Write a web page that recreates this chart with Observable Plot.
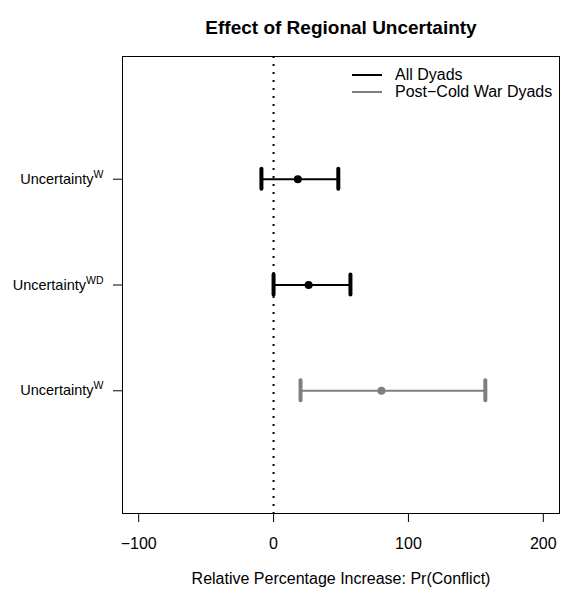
<!DOCTYPE html>
<html>
<head>
<meta charset="utf-8">
<script src="https://cdn.jsdelivr.net/npm/d3@7"></script>
<script src="https://cdn.jsdelivr.net/npm/@observablehq/plot@0.6"></script>
<style>
  html, body { margin: 0; padding: 0; background: #fff; }
  #wrap { position: relative; width: 561px; height: 596px; font-family: "Liberation Sans", Arial, sans-serif; }
  #legend { position: absolute; left: 352px; top: 66px; font-size: 16px; color: #000; }
  #legend .row { display: flex; align-items: center; height: 17px; }
  #legend .sw { width: 30px; height: 0; border-top: 2px solid; margin-right: 13px; }
</style>
</head>
<body>
<div id="wrap"></div>
<script>
// ---- data ----
const title = "Effect of Regional Uncertainty";
const xLabel = "Relative Percentage Increase: Pr(Conflict)";
const rowLabels = ["Uncertainty^W", "Uncertainty^WD", "Uncertainty^W"];
const rowPos = [3, 2, 1];
const estimates = [18, 26, 80];
const lower = [-9, 0, 20];
const upper = [48, 57, 157];
const rowSeries = ["All Dyads", "All Dyads", "Post\u2212Cold War Dyads"];
const seriesNames = ["All Dyads", "Post\u2212Cold War Dyads"];
const seriesColors = ["#000000", "#7f7f7f"];
const xTicks = [-100, 0, 100, 200];
const xDomain = [-112, 212];
const yDomain = [-0.16, 4.16];

const data = rowPos.map((p, i) => ({
  pos: p, label: rowLabels[i], est: estimates[i], lo: lower[i], hi: upper[i], series: rowSeries[i]
}));

const capHalf = 0.095;
const fmt = d => d < 0 ? "\u2212" + Math.abs(d) : String(d);

const chart = Plot.plot({
  width: 561,
  height: 596,
  marginLeft: 122,
  marginRight: 2,
  marginTop: 56,
  marginBottom: 83,
  style: { fontFamily: "Liberation Sans, Arial, sans-serif", fontSize: "16px", background: "white", color: "black" },
  x: { domain: xDomain },
  y: { domain: yDomain },
  color: { domain: seriesNames, range: seriesColors },
  marks: [
    Plot.frame({ stroke: "black", strokeWidth: 1 }),
    Plot.ruleX([0], { stroke: "black", strokeWidth: 2, strokeDasharray: "2,6" }),
    Plot.ruleY(data, { y: "pos", x1: "lo", x2: "hi", stroke: "series", strokeWidth: 2 }),
    Plot.ruleX(data, { x: "lo", y1: d => d.pos - capHalf, y2: d => d.pos + capHalf, stroke: "series", strokeWidth: 4, strokeLinecap: "round" }),
    Plot.ruleX(data, { x: "hi", y1: d => d.pos - capHalf, y2: d => d.pos + capHalf, stroke: "series", strokeWidth: 4, strokeLinecap: "round" }),
    Plot.dot(data, { x: "est", y: "pos", r: 4, fill: "series", stroke: null }),
    Plot.axisX({ ticks: xTicks, tickSize: 9, tickPadding: 15, tickFormat: fmt, label: null, fontSize: 16 }),
    Plot.axisY({ ticks: rowPos, tickSize: 9, tickPadding: 10, tickFormat: d => rowLabels[rowPos.indexOf(d)], label: null, fontSize: 14.5 }),
    Plot.text([title], { frameAnchor: "top", dy: -36, fontWeight: "bold", fontSize: 19 }),
    Plot.text([xLabel], { frameAnchor: "bottom", dy: 70, fontSize: 16 })
  ]
});

// superscripts in y tick labels
chart.querySelectorAll('[aria-label="y-axis tick label"] text').forEach(t => {
  const s = t.textContent;
  const k = s.indexOf("^");
  if (k < 0) return;
  t.textContent = s.slice(0, k);
  const ts = document.createElementNS("http://www.w3.org/2000/svg", "tspan");
  ts.setAttribute("dy", "-6");
  ts.setAttribute("font-size", "10.5");
  ts.textContent = s.slice(k + 1);
  t.appendChild(ts);
});

const wrap = document.getElementById("wrap");
wrap.appendChild(chart);

const legend = document.createElement("div");
legend.id = "legend";
seriesNames.forEach((n, i) => {
  const row = document.createElement("div");
  row.className = "row";
  const sw = document.createElement("div");
  sw.className = "sw";
  sw.style.borderTopColor = seriesColors[i];
  const tx = document.createElement("span");
  tx.textContent = n;
  row.appendChild(sw);
  row.appendChild(tx);
  legend.appendChild(row);
});
wrap.appendChild(legend);
</script>
</body>
</html>
